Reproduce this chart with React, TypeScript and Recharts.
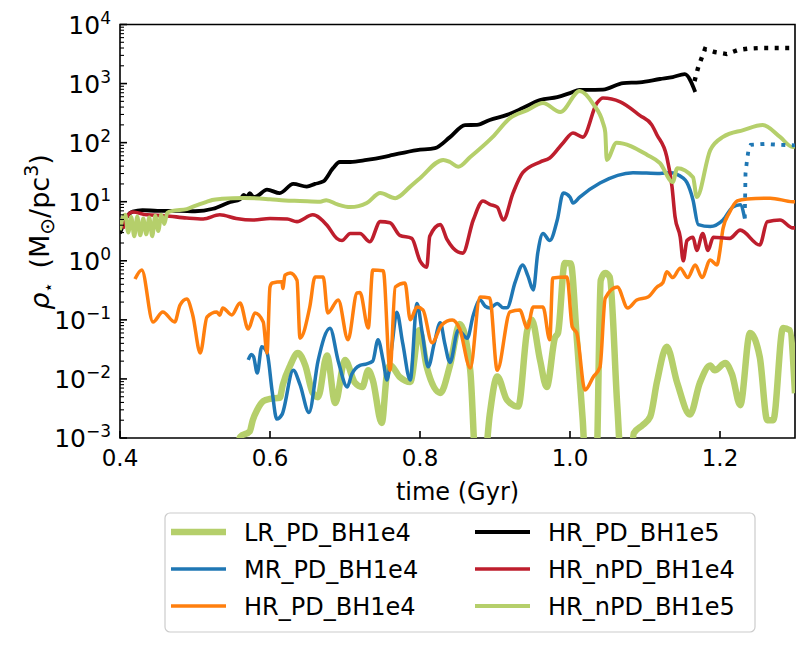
import React from 'react';
import { LineChart, Line, XAxis, YAxis, ReferenceArea } from 'recharts';

const FONT = '"DejaVu Sans", sans-serif';

type Pt = [number, number];

// time (Gyr), rho_star (Msun/pc^3)
const lrPdBh1e4: Pt[] = [
  [0.553, 0.0003], [0.560, 0.00104], [0.573, 0.0013], [0.577, 0.002], [0.583, 0.003], [0.591, 0.0042],
  [0.600, 0.0046], [0.613, 0.0048], [0.617, 0.0079], [0.627, 0.017], [0.637, 0.0275], [0.647, 0.017],
  [0.657, 0.0058], [0.664, 0.0049], [0.676, 0.025], [0.687, 0.0039], [0.700, 0.021], [0.713, 0.0087],
  [0.723, 0.0073], [0.731, 0.014], [0.737, 0.0096], [0.749, 0.0018], [0.756, 0.0126], [0.760, 0.0172],
  [0.773, 0.0108], [0.787, 0.0089], [0.799, 0.067], [0.809, 0.0159], [0.827, 0.0058], [0.840, 0.017],
  [0.853, 0.085], [0.867, 0.014], [0.875, 0.0003], [0.885, 0.0003], [0.893, 0.0025], [0.903, 0.011],
  [0.916, 0.0044], [0.931, 0.0034], [0.943, 0.067], [0.949, 0.1], [0.960, 0.021], [0.969, 0.0073],
  [0.980, 0.05], [0.984, 0.06], [0.993, 0.92], [1.001, 0.9], [1.009, 0.05], [1.017, 0.002],
  [1.021, 0.0003], [1.035, 0.0003], [1.041, 0.47], [1.047, 0.62], [1.053, 0.53], [1.063, 0.0036],
  [1.069, 0.0003], [1.081, 0.0003], [1.085, 0.0012], [1.097, 0.00166], [1.107, 0.0023], [1.116, 0.009],
  [1.129, 0.035], [1.143, 0.0085], [1.160, 0.0025], [1.173, 0.0085], [1.187, 0.0168], [1.193, 0.014],
  [1.207, 0.0186], [1.216, 0.012], [1.227, 0.0036], [1.240, 0.06], [1.253, 0.0235], [1.263, 0.002],
  [1.271, 0.002], [1.284, 0.073], [1.293, 0.067], [1.300, 0.0057],
];

const mrPdBh1e4: Pt[] = [
  [0.571, 0.021], [0.575, 0.026], [0.578, 0.024], [0.583, 0.0126], [0.589, 0.035], [0.596, 0.028],
  [0.603, 0.006], [0.609, 0.0021], [0.616, 0.0025], [0.631, 0.014], [0.640, 0.008], [0.652, 0.0027],
  [0.664, 0.02], [0.680, 0.072], [0.691, 0.02], [0.703, 0.0073], [0.709, 0.012], [0.720, 0.017],
  [0.729, 0.018], [0.737, 0.02], [0.744, 0.046], [0.751, 0.02], [0.756, 0.0096], [0.763, 0.04],
  [0.769, 0.135], [0.777, 0.04], [0.787, 0.0096], [0.796, 0.19], [0.803, 0.06], [0.811, 0.016],
  [0.819, 0.04], [0.827, 0.089], [0.833, 0.04], [0.840, 0.019], [0.851, 0.067], [0.863, 0.049],
  [0.871, 0.12], [0.880, 0.217], [0.887, 0.17], [0.893, 0.159], [0.903, 0.19], [0.911, 0.16],
  [0.916, 0.16], [0.927, 0.44], [0.937, 0.85], [0.944, 0.55], [0.951, 0.32], [0.957, 1.35],
  [0.964, 2.9], [0.973, 2.2], [0.983, 4.9], [0.991, 14], [1.000, 12], [1.004, 9.5], [1.013, 12],
  [1.040, 20.7], [1.084, 31], [1.120, 30], [1.133, 31], [1.151, 25], [1.156, 21], [1.164, 10.7],
  [1.171, 4.1], [1.187, 3.8], [1.204, 4.9], [1.217, 8.1], [1.227, 8.9], [1.233, 5.2],
];

const mrPdBh1e4Late: Pt[] = [
  [1.233, 5.2], [1.2335, 12], [1.234, 30], [1.236, 50], [1.238, 75], [1.241, 92], [1.26, 95],
  [1.28, 92], [1.3, 90],
];

const hrPdBh1e4: Pt[] = [
  [0.420, 0.49], [0.429, 0.70], [0.444, 0.092], [0.457, 0.136], [0.473, 0.092], [0.480, 0.178],
  [0.489, 0.225], [0.497, 0.12], [0.507, 0.0275], [0.516, 0.112], [0.529, 0.136], [0.533, 0.12],
  [0.537, 0.159], [0.549, 0.121], [0.560, 0.193], [0.571, 0.070], [0.580, 0.131], [0.591, 0.092],
  [0.596, 0.0275], [0.600, 0.36], [0.603, 0.42], [0.616, 0.44], [0.617, 0.34], [0.620, 0.57],
  [0.627, 0.62], [0.636, 0.47], [0.640, 0.049], [0.653, 0.165], [0.660, 0.53], [0.671, 0.53],
  [0.677, 0.131], [0.691, 0.217], [0.704, 0.046], [0.716, 0.285], [0.720, 0.29], [0.731, 0.073],
  [0.737, 0.70], [0.751, 0.68], [0.760, 0.014], [0.767, 0.36], [0.780, 0.42], [0.787, 0.1],
  [0.796, 0.165], [0.804, 0.147], [0.816, 0.041], [0.829, 0.082], [0.843, 0.099], [0.853, 0.07],
  [0.867, 0.0153], [0.880, 0.244], [0.893, 0.234], [0.903, 0.014], [0.920, 0.136], [0.933, 0.147],
  [0.943, 0.073], [0.951, 0.165], [0.964, 0.165], [0.973, 0.046], [0.977, 0.51], [0.996, 0.53],
  [1.003, 0.076], [1.009, 0.06], [1.020, 0.0065], [1.031, 0.0108], [1.040, 0.0159], [1.047, 0.234],
  [1.063, 0.36], [1.077, 0.159], [1.089, 0.217], [1.104, 0.244], [1.116, 0.36], [1.124, 0.43],
  [1.129, 0.65], [1.137, 0.52], [1.147, 0.75], [1.157, 0.52], [1.167, 0.85], [1.176, 0.52],
  [1.187, 1.03], [1.196, 0.85], [1.200, 1.5], [1.204, 3.5], [1.213, 6.7], [1.223, 10.3],
  [1.236, 11.1], [1.267, 11.5], [1.297, 10], [1.300, 10],
];

const hrPdBh1e5: Pt[] = [
  [0.400, 2.9], [0.404, 4.0], [0.410, 5.8], [0.417, 6.8], [0.430, 7.2], [0.450, 7.0], [0.480, 7.0],
  [0.500, 6.9], [0.524, 7.6], [0.547, 9.9], [0.560, 11], [0.565, 13], [0.569, 12], [0.573, 14],
  [0.578, 12], [0.583, 12.5], [0.596, 16], [0.613, 14], [0.631, 20], [0.649, 18], [0.660, 20],
  [0.671, 22], [0.684, 37], [0.693, 47], [0.707, 47], [0.729, 51], [0.751, 57], [0.764, 62],
  [0.796, 75], [0.820, 81], [0.840, 124], [0.860, 198], [0.876, 200], [0.893, 242], [0.916, 295],
  [0.937, 385], [0.960, 525], [0.983, 590], [1.000, 690], [1.013, 780], [1.044, 790], [1.071, 1020],
  [1.093, 1050], [1.120, 1195], [1.137, 1290], [1.153, 1445], [1.167, 720],
];

const hrPdBh1e5Late: Pt[] = [
  [1.166, 1100], [1.171, 1900], [1.180, 3850], [1.193, 3420], [1.209, 3160], [1.224, 3700],
  [1.237, 3900], [1.253, 4000], [1.300, 4000],
];

const hrNpdBh1e4: Pt[] = [
  [0.404, 3.5], [0.409, 5.5], [0.417, 6.7], [0.436, 6.0], [0.460, 5.8], [0.489, 5.3], [0.511, 5.1],
  [0.533, 6.0], [0.555, 5.2], [0.577, 4.9], [0.600, 5.2], [0.623, 5.1], [0.636, 4.6], [0.657, 6.0],
  [0.676, 4.0], [0.689, 2.4], [0.696, 2.2], [0.707, 2.9], [0.720, 2.9], [0.733, 2.1], [0.747, 4.6],
  [0.760, 4.4], [0.773, 2.7], [0.789, 2.4], [0.800, 1.0], [0.809, 0.78], [0.813, 2.6], [0.827, 4.1],
  [0.836, 2.3], [0.844, 1.65], [0.857, 1.35], [0.871, 4.9], [0.884, 10.3], [0.893, 9.0], [0.903, 8.1],
  [0.911, 4.9], [0.924, 14], [0.937, 31], [0.960, 47], [0.973, 55], [0.991, 100], [1.004, 146],
  [1.017, 124], [1.036, 470], [1.044, 570], [1.067, 490], [1.093, 290], [1.109, 200], [1.116, 135],
  [1.129, 58], [1.136, 18], [1.140, 5.6], [1.147, 2.5], [1.151, 1.0], [1.156, 2.2], [1.164, 2.5],
  [1.169, 1.5], [1.177, 2.9], [1.184, 1.5], [1.191, 2.5], [1.213, 2.4], [1.227, 3.3], [1.253, 1.85],
  [1.263, 4.6], [1.280, 4.9], [1.297, 3.6], [1.300, 3.6],
];

const hrNpdBh1e5: Pt[] = [
  [0.400, 3.3], [0.404, 5.5], [0.407, 6.0], [0.411, 3.0], [0.415, 5.5], [0.419, 2.6], [0.423, 5.6],
  [0.427, 2.7], [0.431, 5.2], [0.435, 2.8], [0.439, 5.4], [0.443, 2.6], [0.447, 5.8], [0.451, 3.2],
  [0.455, 6.0], [0.459, 4.2], [0.463, 6.5], [0.470, 7.0], [0.489, 7.5], [0.500, 8.5], [0.516, 10],
  [0.523, 10.7], [0.536, 11.2], [0.565, 11.6], [0.600, 11], [0.620, 10.5], [0.640, 10.3], [0.667, 10],
  [0.675, 10.6], [0.690, 9.0], [0.707, 8.1], [0.729, 9.5], [0.747, 14], [0.767, 11.5], [0.787, 18],
  [0.800, 25], [0.831, 51], [0.840, 47], [0.851, 39], [0.867, 57], [0.897, 125], [0.920, 260],
  [0.943, 355], [0.964, 470], [0.987, 330], [1.013, 750], [1.031, 450], [1.044, 215], [1.047, 150],
  [1.049, 51], [1.062, 100], [1.103, 62], [1.120, 45], [1.137, 21.5], [1.143, 37], [1.164, 26],
  [1.169, 12], [1.187, 75], [1.204, 125], [1.231, 163], [1.257, 198], [1.280, 125], [1.297, 84],
  [1.300, 90],
];

const xTicks = [0.4, 0.6, 0.8, 1.0, 1.2];
const yMajor = [1e-3, 1e-2, 1e-1, 1, 10, 100, 1000, 10000];
const yTicks = yMajor.flatMap((m, i) =>
  i < yMajor.length - 1 ? [1, 2, 3, 4, 5, 6, 7, 8, 9].map((k) => k * m) : [m]
);

const series = [
  { name: 'LR_PD_BH1e4', data: lrPdBh1e4, color: '#b5cf6b', width: 6.5 },
  { name: 'MR_PD_BH1e4', data: mrPdBh1e4, color: '#1f77b4', width: 3.5 },
  { name: 'HR_PD_BH1e4', data: hrPdBh1e4, color: '#ff7f0e', width: 3.5 },
  { name: 'HR_PD_BH1e5', data: hrPdBh1e5, color: '#000000', width: 3.8 },
  { name: 'HR_nPD_BH1e4', data: hrNpdBh1e4, color: '#be1e2d', width: 3.6 },
  { name: 'HR_nPD_BH1e5', data: hrNpdBh1e5, color: '#b5cf6b', width: 4 },
];

const dotted = [
  { key: 'mrLate', data: mrPdBh1e4Late, color: '#1f77b4', width: 3.8 },
  { key: 'hrLate', data: hrPdBh1e5Late, color: '#000000', width: 4.4 },
];

const rows = (pts: Pt[]) => pts.map(([t, v]) => ({ t, v }));

const PLOT = { left: 120, right: 795, top: 24.5, bottom: 438 };

function YTick(props: any) {
  const { x, y, payload } = props;
  const v: number = payload.value;
  const e = Math.round(Math.log10(v));
  const major = Math.abs(v / Math.pow(10, e) - 1) < 1e-6;
  const exp = e < 0 ? '\u2212' + Math.abs(e) : String(e);
  return (
    <g>
      <line x1={x} x2={x + (major ? 7 : 4)} y1={y} y2={y} stroke="#000" strokeWidth={major ? 1.6 : 1.1} />
      {major && (
        <text x={x - 9} y={y + 9} textAnchor="end" fontFamily={FONT} fontSize={25} fill="#000">
          10<tspan dy={-10} fontSize={17}>{exp}</tspan>
        </text>
      )}
    </g>
  );
}

function XTick(props: any) {
  const { x, y, payload } = props;
  return (
    <g>
      <line x1={x} x2={x} y1={y} y2={y - 7} stroke="#000" strokeWidth={1.6} />
      <text x={x} y={y + 28} textAnchor="middle" fontFamily={FONT} fontSize={23} fill="#000">
        {Number(payload.value).toFixed(1)}
      </text>
    </g>
  );
}

const xLabel = () => (
  <text x={(PLOT.left + PLOT.right) / 2} y={500} textAnchor="middle" fontFamily={FONT} fontSize={24} fill="#000">
    time (Gyr)
  </text>
);

const yLabel = () => (
  <text
    x={49}
    y={232}
    transform="rotate(-90 49 232)"
    textAnchor="middle"
    fontFamily={FONT}
    fontSize={27}
    fill="#000"
  >
    <tspan fontStyle="italic">ρ</tspan>
    <tspan fontSize={17} dy={5}>⋆</tspan>
    <tspan dy={-5}>{'\u2002(M'}</tspan>
    <tspan fontSize={20} dy={5}>⊙</tspan>
    <tspan dy={-5}>/pc</tspan>
    <tspan fontSize={19} dy={-11}>3</tspan>
    <tspan dy={11}>)</tspan>
  </text>
);

function LegendBox() {
  const col = [
    { sx: 7, tx: 80 },
    { sx: 311, tx: 384 },
  ];
  const rowY = [20, 57, 94];
  return (
    <svg width={592} height={121} style={{ position: 'absolute', left: 164, top: 512 }}>
      <rect x={1} y={1} width={590} height={119} rx={5} fill="#fff" stroke="#cccccc" strokeWidth={1.2} />
      {series.map((s, i) => {
        const c = col[Math.floor(i / 3)];
        const y = rowY[i % 3];
        return (
          <g key={s.name}>
            <line x1={c.sx} x2={c.sx + 55} y1={y} y2={y} stroke={s.color} strokeWidth={s.width} />
            <text x={c.tx} y={y + 9} fontFamily={FONT} fontSize={24} fill="#000">
              {s.name}
            </text>
          </g>
        );
      })}
    </svg>
  );
}

export default function App() {
  return (
    <div style={{ position: 'absolute', left: 0, top: 0, width: 810, height: 648, background: '#fff' }}>
      <LineChart
        width={810}
        height={648}
        margin={{ top: PLOT.top, right: 810 - PLOT.right, left: 0, bottom: 648 - PLOT.bottom - 40 }}
      >
        <XAxis
          type="number"
          dataKey="t"
          domain={[0.4, 1.3]}
          ticks={xTicks}
          interval={0}
          allowDataOverflow
          axisLine={false}
          tickLine={false}
          tickSize={0}
          tickMargin={0}
          tick={<XTick />}
          height={40}
          label={xLabel}
        />
        <YAxis
          type="number"
          scale="log"
          domain={[0.001, 10000]}
          ticks={yTicks}
          interval={0}
          allowDataOverflow
          axisLine={false}
          tickLine={false}
          tickSize={0}
          tickMargin={0}
          tick={<YTick />}
          width={PLOT.left}
          label={yLabel}
        />
        {series.map((s) => (
          <Line
            key={s.name}
            data={rows(s.data)}
            dataKey="v"
            name={s.name}
            type="monotoneX"
            stroke={s.color}
            strokeWidth={s.width}
            strokeLinejoin="round"
            dot={false}
            activeDot={false}
            isAnimationActive={false}
          />
        ))}
        {dotted.map((s) => (
          <Line
            key={s.key}
            data={rows(s.data)}
            dataKey="v"
            type="linear"
            stroke={s.color}
            strokeWidth={s.width}
            strokeDasharray="4 6.5"
            dot={false}
            activeDot={false}
            legendType="none"
            isAnimationActive={false}
          />
        ))}
        <ReferenceArea
          x1={0.4}
          x2={1.3}
          y1={0.001}
          y2={10000}
          fill="none"
          stroke="#000"
          strokeWidth={1.6}
          ifOverflow="visible"
        />
      </LineChart>
      <LegendBox />
    </div>
  );
}
